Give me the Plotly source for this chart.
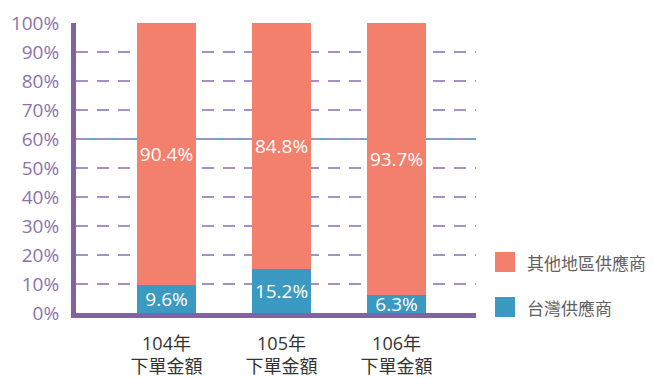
import plotly.graph_objects as go

categories = ["104年<br>下單金額", "105年<br>下單金額", "106年<br>下單金額"]
taiwan = [9.6, 15.2, 6.3]
others = [90.4, 84.8, 93.7]
series_names = ["台灣供應商", "其他地區供應商"]
series_colors = ["#3a9ac1", "#f2806c"]
y_ticks = [0, 10, 20, 30, 40, 50, 60, 70, 80, 90, 100]
y_tick_labels = [f"{v}%" for v in y_ticks]

FONT = "Open Sans, Noto Sans CJK TC, sans-serif"
W, H = 653, 379
L, R, T, B = 76, 177, 23, 66

fig = go.Figure()
for name, vals, col in [(series_names[0], taiwan, series_colors[0]),
                        (series_names[1], others, series_colors[1])]:
    fig.add_trace(go.Bar(
        x=[0, 1, 2], y=vals, name=name, marker=dict(color=col, line=dict(width=0)),
        width=0.513, text=[f"{v}%" for v in vals], textposition="inside",
        insidetextanchor="middle", constraintext="none", textangle=0,
        textfont=dict(color="white", size=19, family=FONT),
        showlegend=False, hoverinfo="skip",
    ))

# solid thin line at 60%
fig.add_shape(type="line", xref="paper", yref="y", x0=0, x1=1, y0=60, y1=60,
              line=dict(color="#3a8fb5", width=1.5), layer="between")

# legend drawn with shapes + text
pw = W - L - R
ph = H - T - B
def px_x(p):
    return (p - L) / pw
def px_y(p):
    return (H - B - p) / ph

legend_items = [(series_names[1], series_colors[1], 262), (series_names[0], series_colors[0], 307)]
for name, col, cy in legend_items:
    fig.add_shape(type="rect", xref="paper", yref="paper",
                  x0=px_x(495), x1=px_x(515), y0=px_y(cy + 10), y1=px_y(cy - 10),
                  fillcolor=col, line=dict(width=0))
    fig.add_annotation(xref="paper", yref="paper", x=px_x(525), y=px_y(cy),
                       text=name, showarrow=False, xanchor="left", yanchor="middle",
                       font=dict(size=17, color="#606060", family="Noto Sans CJK TC, sans-serif"))

fig.update_layout(
    width=W, height=H, margin=dict(l=L, r=R, t=T, b=B, autoexpand=False),
    barmode="stack", plot_bgcolor="white", paper_bgcolor="white",
    showlegend=False,
    xaxis=dict(range=[-0.787, 2.691], tickvals=[0, 1, 2], ticktext=categories,
               showgrid=False, zeroline=False, showline=True, linecolor="#8064a2",
               linewidth=5, tickfont=dict(size=18, color="#333333", family=FONT),
               ticks="", ticklabelstandoff=10, automargin=False),
    yaxis=dict(range=[0, 100], tickvals=y_ticks, ticktext=y_tick_labels,
               showgrid=True, gridcolor="#a591c4", gridwidth=2, griddash="12px,9px",
               zeroline=False, showline=True, linecolor="#8064a2", linewidth=5,
               tickfont=dict(size=19, color="#8c72ad", family=FONT),
               ticks="", ticklabelstandoff=8, automargin=False),
)

fig.write_html("out.html", config={"displayModeBar": False},
               post_script="document.body.style.margin='0';document.body.style.overflow='hidden';")
